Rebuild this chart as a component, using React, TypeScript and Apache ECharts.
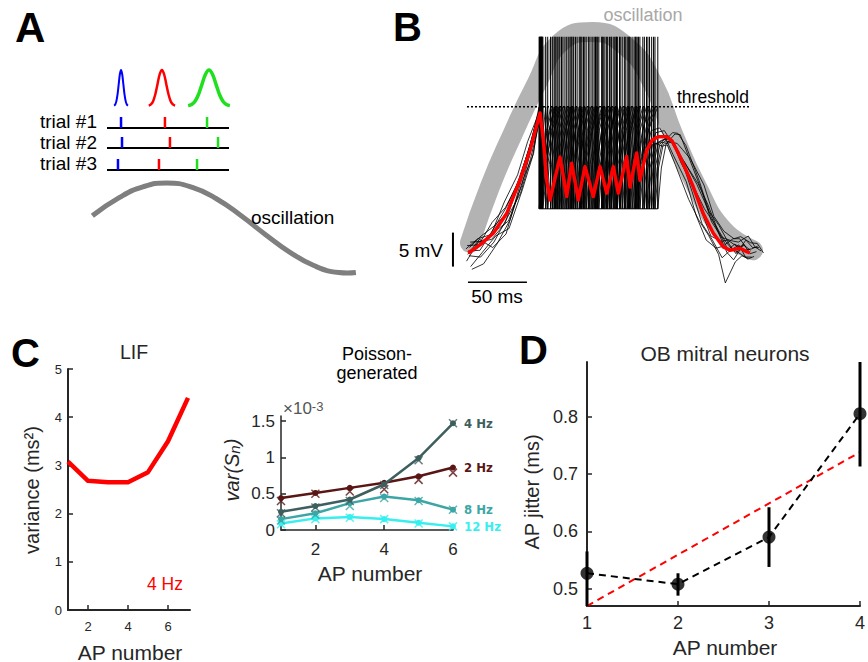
import React, { useEffect, useRef } from "react";
import * as echarts from "echarts";

const FONT = "'Liberation Sans', Arial, Helvetica, sans-serif";
const INK = "#262626";

// ---------------- Panel A (schematic) ----------------
const trialNames = ["trial #1", "trial #2", "trial #3"];
const trialBaselines = [152, 132, 110]; // schematic height units
const trialStartMs = 0;
const trialEndMs = 100;
const spikesBlue = [11.5, 12.3, 9.0];
const spikesRed = [47.5, 51.6, 42.6];
const spikesGreen = [82.0, 91.0, 73.8];
const tickHeight = 11;
const jitterCenters = [11.5, 45.0, 83.6]; // blue, red, green
const jitterWidths = [1.9, 3.6, 5.7];
const jitterBase = 174;
const jitterHeight = 36;
const gaussOffsets = [-3, -2.5, -2, -1.5, -1, -0.5, 0, 0.5, 1, 1.5, 2, 2.5, 3];
const gaussProfile = [0.011, 0.044, 0.135, 0.325, 0.607, 0.882, 1, 0.882, 0.607, 0.325, 0.135, 0.044, 0.011];
const oscATime = [-12, 10, 30, 49, 70, 90, 110, 130, 150, 170, 190, 197, 204];
const oscALevel = [64.2, 82.4, 93.4, 97, 92.6, 81, 64.2, 45.3, 27.7, 14.2, 7.5, 7, 7.5];

// ---------------- Panel B (membrane traces, ms / mV) ----------------
const bandT = [4.2, 21, 40.7, 61, 80.5, 108, 137, 159, 176, 196.6, 218.6, 244];
const bandV = [-71.0, -62.8, -54.9, -47.5, -41.6, -40, -42.2, -47.5, -54.9, -62.8, -69.1, -72.1];
const thresholdMv = -51;
const resetMv = -66;
const spikeTopMv = -40.7;
const meanT = [2.8, 12.7, 24, 35.3, 46.6, 55.1, 63.6, 66.4, 69.2, 72.0, 80.5, 86.2, 90.4, 96.0, 101.7, 108.7, 114.4, 120.1, 125.7, 129.9, 137.0, 139.8, 145.5, 148.3, 154.0, 158.5, 163.8, 170.9, 175.4, 182.2, 193.5, 201.9, 210.4, 218.9, 224.6, 233.1, 238.7, 241.5];
const meanV = [-72.5, -71.3, -69.6, -66.7, -61.8, -57.4, -51.9, -55.9, -61.8, -64.7, -58.4, -64.2, -59.3, -64.7, -59.8, -64.2, -59.8, -63.7, -59.8, -63.7, -58.3, -62.8, -57.8, -61.8, -57.4, -55.9, -55.4, -55.4, -56.0, -58.3, -62.8, -66.7, -69.6, -71.6, -72.1, -71.8, -72.3, -72.5];
const preT = [2.8, 12.7, 24, 35.3, 46.6, 55.1];
const preV = [-72.5, -71.3, -69.6, -66.7, -61.8, -57.4];
const postT = [163.8, 170.9, 175.4, 182.2, 193.5, 201.9, 210.4, 218.9, 224.6, 233.1, 238.7, 244];
const postV = [-55.4, -55.4, -56.0, -58.3, -62.8, -66.7, -69.6, -71.6, -72.1, -71.8, -72.3, -72.5];
const traceSpikes = [
  [63.5, 76.3, 88.9, 100.4, 113.4, 125.6, 137.4, 150.7],
  [64.2, 77.1, 90.5, 102.7, 115.8, 127.9, 139.9, 153.8],
  [62.8, 74.0, 86.2, 98.3, 110.6, 122.4, 133.2, 145.9, 159.8],
  [65.1, 79.6, 92.2, 105.2, 117.2, 129.1, 141.6, 156.4],
  [63.9, 72.5, 84.7, 96.8, 108.3, 120.9, 131.5, 143.3, 163.4],
  [66.0, 81.8, 93.6, 106.8, 118.5, 131.0, 145.0, 158.2],
  [64.6, 70.1, 83.0, 95.0, 104.5, 116.4, 128.4, 139.2, 148.2],
  [63.2, 68.4, 80.4, 91.6, 99.1, 112.1, 123.7, 135.8, 147.0, 161.0],
  [65.5, 78.2, 89.8, 101.5, 111.7, 124.0, 135.0, 144.4, 155.0],
  [64.9, 75.5, 87.5, 97.6, 109.5, 119.8, 126.9, 138.4, 152.0],
];
const preShift = [0, -1.5, 1.0, 2.0, -1.0, 0.5, -2.0, 3.0, 1.5, -0.5];
const preDev = [
  [0.3, -0.8, 0.6, 1.0, 0.4, 0.8],
  [-1.2, 0.4, -0.9, -1.5, -0.7, -0.3],
  [0.8, 1.3, 1.1, 0.2, 1.2, 1.0],
  [-2.0, -1.1, -0.4, -2.2, -1.4, -1.0],
  [1.1, 0.0, 1.6, 0.9, -0.2, 0.2],
  [-0.4, -1.8, -1.3, -0.6, -1.9, -1.2],
  [0.6, 0.9, -0.2, 1.7, 0.8, 1.3],
  [-2.4, -2.8, -1.6, -0.9, 0.3, -0.5],
  [1.6, 0.5, 0.3, -1.1, -0.8, 0.5],
  [-0.2, 0.8, -2.1, -3.0, -1.0, -0.7],
];
const postShift = [-2, 3, 5, -4, 7, 1, -6, 4, -1, 9];
const postDev = [
  [0.6, 0.9, 0.3, 0.8, 1.2, 0.5, -0.4, 0.8, 1.5, 0.2, 0.9, 0.4],
  [-0.5, -0.2, -1.0, -0.6, 0.4, 1.0, 0.6, -0.8, -1.4, 0.6, -0.3, 0.2],
  [1.2, 0.6, 1.1, 1.6, 0.9, 0.3, 1.1, 0.4, -0.5, 1.2, 0.6, 0.8],
  [-1.0, -1.4, -0.6, -1.2, -1.8, -0.9, -0.3, -1.1, -4.8, -2.0, -0.6, -0.8],
  [0.2, 0.4, 0.9, 0.1, -0.5, -1.2, -0.6, 0.9, 1.2, 1.8, 0.7, 0.3],
  [-0.3, 0.2, -0.4, -1.0, -0.2, 0.7, 1.4, 1.0, 0.3, -0.9, -1.1, -0.5],
  [0.9, 1.3, 0.6, 0.3, 0.8, -0.3, -1.0, -0.2, 0.6, 1.4, 1.9, 0.9],
  [-1.3, -0.8, -1.6, -0.9, 0.5, 1.3, 0.4, -0.4, 0.9, -0.3, 0.4, 1.0],
  [0.4, -0.3, 0.2, 0.7, -0.7, -1.5, -0.9, -1.6, -0.2, 0.5, -0.8, -0.6],
  [-0.7, -1.0, -1.3, -0.4, 0.3, -0.4, 0.3, 1.2, 2.0, 0.8, 1.2, 0.0],
];
const scaleBarMs = 50;
const scaleBarMv = 5;
const scaleBarT0 = 2.5;
const scaleBarV0 = -76.8;
const scaleBarVertT = -10.2;
const scaleBarVertV0 = -74.5;
const thresholdSpan = [1.7, 242.4];

// ---------------- Panel C (LIF) ----------------
const lifAp = [1, 2, 3, 4, 5, 6, 7];
const lifVariance = [3.08, 2.68, 2.65, 2.65, 2.86, 3.5, 4.4];

// ---------------- Panel C (Poisson-generated, x1e-3) ----------------
const poissonAp = [1, 2, 3, 4, 5, 6];
const var4Hz = [0.25, 0.33, 0.42, 0.63, 0.99, 1.47];
const var2Hz = [0.44, 0.51, 0.58, 0.65, 0.74, 0.86];
const var8Hz = [0.15, 0.23, 0.37, 0.46, 0.41, 0.28];
const var12Hz = [0.09, 0.16, 0.18, 0.15, 0.10, 0.05];
const var4HzTheory = [0.23, 0.31, 0.40, 0.62, 0.96, 1.47];
const var2HzTheory = [0.40, 0.50, 0.53, 0.56, 0.69, 0.79];
const var8HzTheory = [0.13, 0.21, 0.33, 0.44, 0.40, 0.28];
const var12HzTheory = [0.08, 0.15, 0.17, 0.15, 0.09, 0.05];

// ---------------- Panel D (OB mitral neurons) ----------------
const apD = [1, 2, 3, 4];
const jitterMean = [0.527, 0.508, 0.590, 0.805];
const jitterLow = [0.46, 0.488, 0.538, 0.713];
const jitterHigh = [0.565, 0.527, 0.642, 0.90];
const fitAp = [1, 4];
const fitJitter = [0.47, 0.738];

function segSeries(ax: number, rows: number[][], stroke: string, lineWidth: number, lineDash?: number[], z = 2) {
  return {
    type: "custom",
    xAxisIndex: ax,
    yAxisIndex: ax,
    silent: true,
    z,
    data: rows,
    encode: { x: [0, 2], y: [1, 3] },
    renderItem: (params: any, api: any) => {
      const a = api.coord([api.value(0), api.value(1)]);
      const b = api.coord([api.value(2), api.value(3)]);
      return {
        type: "line",
        shape: { x1: a[0], y1: a[1], x2: b[0], y2: b[1] },
        style: { stroke, lineWidth, lineDash: lineDash || null, fill: null },
      };
    },
  };
}

function lineSeries(ax: number, pts: number[][], color: string, width: number, extra: any = {}) {
  return {
    type: "line",
    xAxisIndex: ax,
    yAxisIndex: ax,
    data: pts,
    symbol: "none",
    silent: true,
    lineStyle: { color, width },
    ...extra,
  };
}

function buildTrace(k: number): number[][] {
  const sp = traceSpikes[k];
  const pts: number[][] = preT.map((t, i) => [t + preShift[k], preV[i] + preDev[k][i]]);
  pts.push([sp[0], thresholdMv], [sp[0], resetMv]);
  for (let i = 0; i < sp.length - 1; i++) {
    const s = sp[i];
    const e = sp[i + 1];
    const isi = e - s;
    pts.push([s + 0.25 * isi, -59.5], [s + 0.6 * isi, -54.5], [e, thresholdMv], [e, resetMv]);
  }
  const last = sp[sp.length - 1];
  pts.push([last + 3, -60], [last + 7, -56.5]);
  postT.forEach((t, i) => {
    const tt = t + postShift[k];
    if (tt > last + 9) pts.push([tt, postV[i] + postDev[k][i]]);
  });
  return pts;
}

function txt(text: string, x: number, y: number, o: any = {}) {
  return {
    type: "text",
    x,
    y,
    silent: true,
    z: 100,
    rotation: o.rotation || 0,
    style: {
      text,
      fill: o.fill || "#000",
      fontSize: o.size || 19,
      fontWeight: o.weight || "normal",
      fontStyle: o.style || "normal",
      fontFamily: FONT,
      align: o.align || "left",
      textAlign: o.align || "left",
      verticalAlign: "middle",
      textVerticalAlign: "middle",
      rich: o.rich,
    },
  };
}

function visAxis(grid: number, min: number, max: number, o: any) {
  return {
    type: "value",
    gridIndex: grid,
    min,
    max,
    interval: o.interval,
    axisLine: { show: true, onZero: false, lineStyle: { color: INK, width: o.lineWidth || 2 } },
    axisTick: {
      show: true,
      inside: true,
      length: 5,
      lineStyle: { color: INK, width: 1.5 },
      customValues: o.customValues,
    },
    axisLabel: {
      color: INK,
      fontSize: o.fontSize,
      fontFamily: FONT,
      margin: o.margin,
      customValues: o.customValues,
      formatter: o.formatter,
    },
    splitLine: { show: false },
  };
}

function hiddenAxis(grid: number, min: number, max: number) {
  return { type: "value", gridIndex: grid, min, max, show: false, splitLine: { show: false } };
}

function buildOption() {
  const zip = (xs: number[], ys: number[]) => xs.map((x, i) => [x, ys[i]]);

  // Panel A series
  const gaussColors = ["#0000ff", "#ff0000", "#1fdf1f"];
  const gaussWidths = [2, 2.5, 3.5];
  const aSeries: any[] = [];
  aSeries.push(lineSeries(0, zip(oscATime, oscALevel), "#7f7f7f", 5, { smooth: 0.5 }));
  jitterCenters.forEach((c, j) => {
    const pts = gaussOffsets.map((o, i) => [c + o * jitterWidths[j], jitterBase + jitterHeight * gaussProfile[i]]);
    aSeries.push(lineSeries(0, pts, gaussColors[j], gaussWidths[j], { smooth: 0.4 }));
  });
  aSeries.push(segSeries(0, trialBaselines.map((b) => [trialStartMs, b, trialEndMs, b]), "#000", 2));
  [spikesBlue, spikesRed, spikesGreen].forEach((arr, j) => {
    aSeries.push(segSeries(0, arr.map((t, i) => [t, trialBaselines[i], t, trialBaselines[i] + tickHeight]), gaussColors[j], 2.5, undefined, 3));
  });

  // Panel B series
  const bSeries: any[] = [];
  bSeries.push(lineSeries(1, zip(bandT, bandV), "#b3b3b3", 20, { smooth: 0.5, z: 1, lineStyle: { color: "#b3b3b3", width: 20, cap: "round", join: "round" } }));
  const allSpikes = traceSpikes.flat();
  bSeries.push(segSeries(1, allSpikes.map((s) => [s, resetMv, s, spikeTopMv]), "#000", 1, undefined, 2));
  bSeries.push(segSeries(1, [[Math.min(...allSpikes), resetMv, Math.max(...allSpikes), resetMv]], "#000", 1, undefined, 2));
  traceSpikes.forEach((_, k) => {
    bSeries.push(lineSeries(1, buildTrace(k), "#000", 0.9, { z: 2, lineStyle: { color: "#000", width: 0.9, opacity: 0.9 } }));
  });
  bSeries.push(lineSeries(1, zip(meanT, meanV), "#ff0000", 3.5, { z: 4, lineStyle: { color: "#ff0000", width: 3.5, join: "round" } }));
  bSeries.push(segSeries(1, [[thresholdSpan[0], thresholdMv, thresholdSpan[1], thresholdMv]], "#000", 1.5, [2, 2], 5));
  bSeries.push(segSeries(1, [[scaleBarVertT, scaleBarVertV0, scaleBarVertT, scaleBarVertV0 + scaleBarMv]], "#000", 2, undefined, 5));
  bSeries.push(segSeries(1, [[scaleBarT0, scaleBarV0, scaleBarT0 + scaleBarMs, scaleBarV0]], "#000", 1.5, undefined, 5));

  // Panel C (LIF)
  const cSeries: any[] = [lineSeries(2, zip(lifAp, lifVariance), "#ff0000", 4.5, { lineStyle: { color: "#ff0000", width: 4.5, join: "round" } })];

  // Panel C (Poisson)
  const pColors = ["#3f5e5e", "#5a1515", "#3ca6a6", "#38efef"];
  const pNames = ["4 Hz", "2 Hz", "8 Hz", "12 Hz"];
  const pSim = [var4Hz, var2Hz, var8Hz, var12Hz];
  const pTheory = [var4HzTheory, var2HzTheory, var8HzTheory, var12HzTheory];
  const pSeries: any[] = [];
  pSim.forEach((arr, j) => {
    const data: any[] = arr.map((v, i) => [poissonAp[i], v]);
    const lastIdx = data.length - 1;
    data[lastIdx] = {
      value: data[lastIdx],
      label: {
        show: true,
        position: "right",
        distance: 8,
        formatter: pNames[j],
        color: pColors[j],
        fontWeight: "bold",
        fontSize: 13,
        fontFamily: "'DejaVu Sans Condensed', 'Liberation Sans Narrow', Arial, sans-serif",
      },
    };
    pSeries.push({
      type: "line",
      xAxisIndex: 3,
      yAxisIndex: 3,
      data,
      silent: true,
      symbol: "circle",
      symbolSize: 6,
      clip: false,
      z: 3 + (3 - j),
      lineStyle: { color: pColors[j], width: 2.5 },
      itemStyle: { color: pColors[j] },
    });
    pSeries.push({
      type: "scatter",
      xAxisIndex: 3,
      yAxisIndex: 3,
      data: pTheory[j].map((v, i) => [poissonAp[i], v]),
      silent: true,
      clip: false,
      symbol: "path://M0 0L10 10M10 0L0 10",
      symbolSize: 8,
      z: 3 + (3 - j),
      itemStyle: { color: "none", borderColor: pColors[j], borderWidth: 1.5 },
    });
  });

  // Panel D
  const dSeries: any[] = [
    {
      type: "custom",
      xAxisIndex: 4,
      yAxisIndex: 4,
      silent: true,
      z: 3,
      data: apD.map((x, i) => [x, jitterLow[i], jitterHigh[i]]),
      encode: { x: 0, y: [1, 2] },
      renderItem: (params: any, api: any) => {
        const cs = params.coordSys;
        const lo = api.coord([api.value(0), api.value(1)]);
        const hi = api.coord([api.value(0), api.value(2)]);
        const clampY = (y: number) => Math.max(cs.y, Math.min(cs.y + cs.height, y));
        return {
          type: "line",
          shape: { x1: lo[0], y1: clampY(lo[1]), x2: hi[0], y2: clampY(hi[1]) },
          style: { stroke: "#000", lineWidth: 3 },
        };
      },
    },
    lineSeries(4, zip(fitAp, fitJitter), "#ff0000", 2, { z: 2, lineStyle: { color: "#ff0000", width: 2, type: [7, 5] } }),
    lineSeries(4, zip(apD, jitterMean), "#000", 2, { z: 2, lineStyle: { color: "#000", width: 2, type: [7, 5] } }),
    {
      type: "scatter",
      xAxisIndex: 4,
      yAxisIndex: 4,
      silent: true,
      clip: false,
      z: 4,
      symbol: "circle",
      symbolSize: 13,
      itemStyle: { color: "#000" },
      data: zip(apD, jitterMean),
    },
  ];

  const graphic: any[] = [
    // panel letters
    txt("A", 15, 27, { size: 42, weight: "bold" }),
    txt("B", 393, 27, { size: 40, weight: "bold" }),
    txt("C", 11, 353, { size: 40, weight: "bold" }),
    txt("D", 519, 350, { size: 40, weight: "bold" }),
    // panel A
    ...trialNames.map((n, i) => txt(n, 97, [121, 142, 163][i], { align: "right", size: 19 })),
    txt("oscillation", 251, 217, { size: 19 }),
    // panel B
    txt("oscillation", 643, 15, { align: "center", size: 18, fill: "#a8a8a8" }),
    txt("threshold", 677, 97, { size: 17.5 }),
    txt("5 mV", 443, 250, { align: "right", size: 19 }),
    txt("50 ms", 497, 296, { align: "center", size: 19 }),
    // panel C LIF
    txt("LIF", 134, 352, { align: "center", size: 19.5, fill: INK }),
    txt("variance (ms²)", 32, 490, { align: "center", size: 20, fill: INK, rotation: Math.PI / 2 }),
    txt("AP number", 130, 652, { align: "center", size: 21, fill: INK }),
    txt("4 Hz", 147, 584, { size: 17.5, fill: "#ff0000" }),
    // panel C Poisson
    txt("Poisson-", 377, 354, { align: "center", size: 18, fill: "#000" }),
    txt("generated", 377, 373, { align: "center", size: 18, fill: "#000" }),
    txt("{a|×10}{b|-3}", 283, 408, {
      size: 17,
      fill: "#555",
      rich: { a: { fontSize: 17, fill: "#555", fontFamily: FONT }, b: { fontSize: 13, fill: "#555", fontFamily: FONT, verticalAlign: "top" } },
    }),
    txt("{i|var(S}{n|n}{i|)}", 232, 470, {
      align: "center",
      size: 20,
      fill: INK,
      rotation: Math.PI / 2,
      rich: {
        i: { fontSize: 20, fontStyle: "italic", fill: INK, fontFamily: FONT },
        n: { fontSize: 15, fontStyle: "italic", fill: INK, fontFamily: FONT, verticalAlign: "bottom" },
      },
    }),
    txt("AP number", 370, 573, { align: "center", size: 21, fill: INK }),
    // panel D
    txt("OB mitral neurons", 725, 353, { align: "center", size: 21, fill: INK }),
    txt("AP jitter (ms)", 532, 492, { align: "center", size: 20, fill: INK, rotation: Math.PI / 2 }),
    txt("AP number", 725, 647, { align: "center", size: 21, fill: INK }),
  ];

  return {
    animation: false,
    backgroundColor: "#ffffff",
    textStyle: { fontFamily: FONT },
    grid: [
      { left: 82.6, top: 60, width: 280.6, height: 220 },
      { left: 441.4, top: 4.8, width: 330.4, height: 299.2 },
      { left: 68, top: 369, width: 122, height: 241 },
      { left: 281, top: 416, width: 172, height: 114 },
      { left: 587, top: 362, width: 276, height: 244 },
    ],
    xAxis: [
      hiddenAxis(0, -20, 210),
      hiddenAxis(1, -20, 260),
      visAxis(2, 1, 7.1, { customValues: [2, 4, 6], fontSize: 13, margin: 10 }),
      visAxis(3, 1, 6, { customValues: [2, 4, 6], fontSize: 17, margin: 11, lineWidth: 1.5 }),
      visAxis(4, 1, 4, { interval: 1, fontSize: 18, margin: 8 }),
    ],
    yAxis: [
      hiddenAxis(0, 0, 220),
      hiddenAxis(1, -80, -36),
      visAxis(2, 0, 5, { interval: 1, fontSize: 13, margin: 6 }),
      visAxis(3, 0, 1.57, { customValues: [0, 0.5, 1, 1.5], fontSize: 17, margin: 6, lineWidth: 1.5 }),
      visAxis(4, 0.47, 0.895, { customValues: [0.5, 0.6, 0.7, 0.8], fontSize: 18, margin: 9, formatter: (v: number) => v.toFixed(1) }),
    ],
    series: [...aSeries, ...bSeries, ...cSeries, ...pSeries, ...dSeries],
    graphic,
  };
}

export default function App() {
  const ref = useRef<HTMLDivElement>(null);
  useEffect(() => {
    if (!ref.current) return;
    const chart = echarts.init(ref.current, undefined, { renderer: "svg" });
    chart.setOption(buildOption() as any);
    return () => chart.dispose();
  }, []);
  return (
    <div
      ref={ref}
      style={{ position: "absolute", left: 0, top: 0, width: 868, height: 662, background: "#fff" }}
    />
  );
}
